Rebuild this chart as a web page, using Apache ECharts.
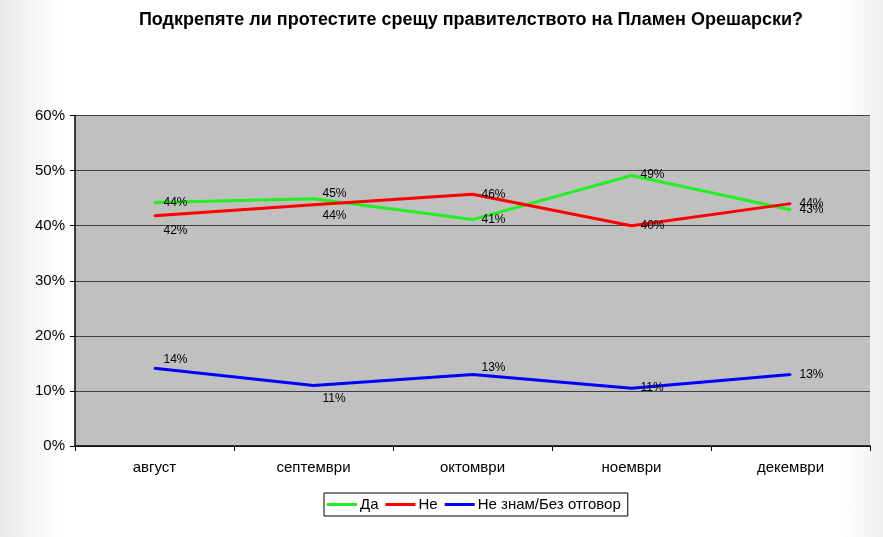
<!DOCTYPE html>
<html>
<head>
<meta charset="utf-8">
<script src="https://cdn.jsdelivr.net/npm/echarts@6/dist/echarts.min.js"></script>
<style>
  html, body { margin: 0; padding: 0; }
  body { background: linear-gradient(to right, #e9e9e9 0px, #ffffff 60px, #ffffff 840px, #f0f0f0 883px); }
  #chart { width: 883px; height: 537px; }
</style>
</head>
<body>
<div id="chart"></div>
<script>
const months = ["август", "септември", "октомври", "ноември", "декември"];
const yes = [44.2, 44.9, 41.1, 49.1, 42.9];
const no = [41.8, 43.8, 45.7, 40.0, 44.0];
const dontKnow = [14.1, 11.0, 13.0, 10.5, 13.0];
const seriesNames = ["Да", "Не", "Не знам/Без отговор"];
const colors = ["#22ee22", "#ff0000", "#0000ff"];

// vertical nudges of the value labels, per point
const labelShift = [
    [0, -5, 0, -1, 0],
    [15, 11, 0, 0, 0],
    [-9, 13, -7, 0, 0]
];

const chart = echarts.init(document.getElementById("chart"));

const makeSeries = (name, values, idx) => ({
    name,
    type: "line",
    data: values.map((v, i) => ({
        value: v,
        label: { show: true, offset: [3, labelShift[idx][i]] }
    })),
    symbol: "circle",
    symbolSize: 2,
    showSymbol: true,
    lineStyle: { color: colors[idx], width: 3 },
    itemStyle: { color: colors[idx] },
    z: 3 + idx,
    label: {
        show: true,
        position: "right",
        distance: 5,
        color: "#000",
        fontSize: 12,
        fontFamily: "Liberation Sans",
        formatter: p => Math.round(p.value) + "%"
    }
});

chart.setOption({
    animation: false,
    backgroundColor: "transparent",
    title: {
        text: "Подкрепяте ли протестите срещу правителството на Пламен Орешарски?",
        left: 466,
        textAlign: "center",
        top: 6,
        textStyle: { fontFamily: "Liberation Sans", fontSize: 18, fontWeight: "bold", color: "#000" }
    },
    grid: { left: 75, right: 13, top: 115.5, bottom: 91, backgroundColor: "#c0c0c0", show: true, borderWidth: 0 },
    legend: {
        data: seriesNames,
        bottom: 21,
        left: 324,
        orient: "horizontal",
        backgroundColor: "#fff",
        borderColor: "#000",
        borderWidth: 1,
        borderRadius: 0,
        padding: [4, 7, 4, 3],
        itemGap: 7,
        itemWidth: 30,
        itemHeight: 3,
        icon: "rect",
        textStyle: { fontFamily: "Liberation Sans", fontSize: 15, color: "#000", padding: [0, 0, 0, -2] }
    },
    xAxis: {
        type: "category",
        data: months,
        boundaryGap: true,
        axisLine: { lineStyle: { color: "#000", width: 1.5 } },
        axisTick: { show: true, length: 5, lineStyle: { color: "#000" } },
        axisLabel: { color: "#000", fontFamily: "Liberation Sans", fontSize: 15, margin: 14 }
    },
    yAxis: {
        type: "value",
        min: 0,
        max: 60,
        interval: 10,
        axisLine: { show: true, lineStyle: { color: "#000", width: 1.5 } },
        axisTick: { show: true, length: 5, lineStyle: { color: "#000" } },
        axisLabel: { color: "#000", fontFamily: "Liberation Sans", fontSize: 15, margin: 10, formatter: "{value}%" },
        splitLine: { lineStyle: { color: "#404040", width: 1.2 } }
    },
    series: [
        makeSeries(seriesNames[0], yes, 0),
        makeSeries(seriesNames[1], no, 1),
        makeSeries(seriesNames[2], dontKnow, 2)
    ]
});
</script>
</body>
</html>
